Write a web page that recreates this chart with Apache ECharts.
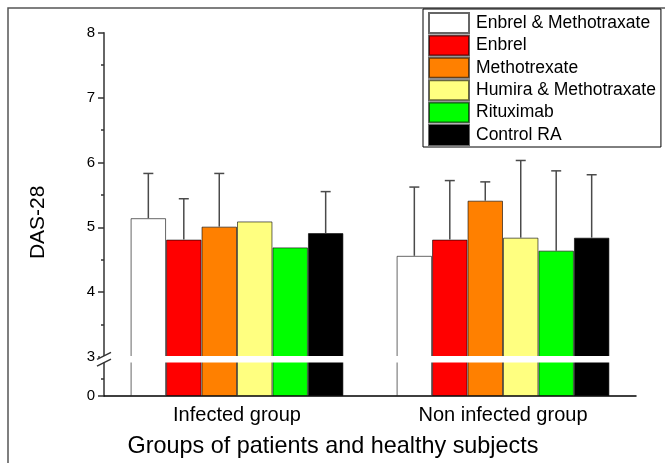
<!DOCTYPE html>
<html>
<head>
<meta charset="utf-8">
<script src="https://cdn.jsdelivr.net/npm/echarts@6/dist/echarts.min.js"></script>
<style>html,body{margin:0;padding:0;background:#fff;}#c{width:665px;height:463px;}</style>
</head>
<body>
<div id="c"></div>
<script>
const categories = ['Infected group', 'Non infected group'];
const seriesNames = ['Enbrel & Methotraxate', 'Enbrel', 'Methotrexate', 'Humira & Methotraxate', 'Rituximab', 'Control RA'];
const seriesColors = ['#ffffff', '#ff0000', '#ff8000', '#ffff80', '#00ff00', '#000000'];
// mean DAS-28 per group [Infected, Non infected]
const enbrelMtxMean = [5.14, 4.56];
const enbrelMean = [4.81, 4.81];
const mtxMean = [5.01, 5.41];
const humiraMtxMean = [5.09, 4.84];
const rituximabMean = [4.69, 4.64];
const controlMean = [4.91, 4.84];
// upward error (SD) per group; null = not drawn
const enbrelMtxErr = [0.69, 1.06];
const enbrelErr = [0.63, 0.91];
const mtxErr = [0.82, 0.29];
const humiraMtxErr = [null, 1.19];
const rituximabErr = [null, 1.23];
const controlErr = [0.64, 0.97];
const upperTicks = [3, 4, 5, 6, 7, 8];
const lowerTicks = [0];

const means = [enbrelMtxMean, enbrelMean, mtxMean, humiraMtxMean, rituximabMean, controlMean];
const errs = [enbrelMtxErr, enbrelErr, mtxErr, humiraMtxErr, rituximabErr, controlErr];

const FONT = '"Liberation Sans", Arial, sans-serif';
const nSeries = seriesNames.length;
const catGap = 0.2;

const series = [];
seriesNames.forEach((name, i) => {
  [0, 1].forEach(g => {
    series.push({
      name: name,
      type: 'bar',
      xAxisIndex: g,
      yAxisIndex: g,
      data: means[i],
      barGap: '0%',
      barCategoryGap: (catGap * 100) + '%',
      clip: true,
      itemStyle: { color: seriesColors[i], borderColor: 'rgba(0,0,0,0.6)', borderWidth: 1 },
      emphasis: { disabled: true },
      animation: false
    });
  });
});

const errData = [];
errs.forEach((arr, i) => {
  arr.forEach((e, c) => {
    if (e != null) errData.push([c, i, means[i][c], e]);
  });
});

series.push({
  name: 'err',
  type: 'custom',
  xAxisIndex: 0,
  yAxisIndex: 0,
  z: 10,
  animation: false,
  data: errData,
  renderItem: function (params, api) {
    const cat = api.value(0), si = api.value(1), m = api.value(2), e = api.value(3);
    const band = api.size([1, 0])[0];
    const bw = band * (1 - catGap) / nSeries;
    const p0 = api.coord([cat, m]);
    const p1 = api.coord([cat, m + e]);
    const cx = p0[0] + (si - (nSeries - 1) / 2) * bw;
    const hw = 5;
    const st = { stroke: '#4a4a4a', lineWidth: 1.5 };
    return {
      type: 'group',
      children: [
        { type: 'line', shape: { x1: cx, y1: p0[1], x2: cx, y2: p1[1] }, style: st },
        { type: 'line', shape: { x1: cx - hw, y1: p1[1], x2: cx + hw, y2: p1[1] }, style: st }
      ]
    };
  }
});

const chart = echarts.init(document.getElementById('c'));
chart.setOption({
  animation: false,
  backgroundColor: '#fff',
  textStyle: { fontFamily: FONT },
  legend: {
    data: seriesNames,
    orient: 'vertical',
    left: 423,
    top: 9,
    padding: [3, 5, 1, 5],
    itemWidth: 40,
    itemHeight: 20,
    itemGap: 0.4,
    icon: 'rect',
    borderColor: '#000',
    borderWidth: 1,
    backgroundColor: '#fff',
    selectedMode: false,
    textStyle: { fontSize: 17.5, lineHeight: 20, color: '#000', fontFamily: FONT, padding: [0, 0, 0, 2] }
  },
  grid: [
    { left: 104, right: 29, top: 32.7, height: 324.3 },
    { left: 104, right: 29, top: 361.5, height: 34.5 }
  ],
  xAxis: [
    { gridIndex: 0, type: 'category', data: categories, show: false },
    {
      gridIndex: 1, type: 'category', data: categories, position: 'bottom',
      axisLine: { lineStyle: { color: '#000', width: 1.5 } },
      axisTick: { alignWithLabel: true, length: 6, lineStyle: { color: '#000', width: 1.5 } },
      axisLabel: { fontSize: 20, color: '#000', margin: 9, fontFamily: FONT },
      name: 'Groups of patients and healthy subjects',
      nameLocation: 'middle',
      nameGap: 39,
      nameTextStyle: { fontSize: 23.4, color: '#000', fontFamily: FONT, padding: [0, 74, 0, 0] }
    },
    {
      gridIndex: 1, type: 'category', data: categories, position: 'bottom', offset: 0,
      axisLine: { show: false },
      axisTick: { length: 3, lineStyle: { color: '#000', width: 1.5 } },
      axisLabel: { show: false }
    }
  ],
  yAxis: [
    {
      gridIndex: 0, type: 'value', min: 3, max: 8, interval: 1,
      splitLine: { show: false },
      axisLine: { show: true, lineStyle: { color: '#333', width: 1.5 } },
      axisTick: { show: true, length: 6, lineStyle: { color: '#333', width: 1.5 } },
      minorTick: { show: true, splitNumber: 2, length: 3, lineStyle: { color: '#333', width: 1.5 } },
      axisLabel: { fontSize: 15, color: '#000', margin: 9, fontFamily: FONT, customValues: upperTicks },
      name: 'DAS-28',
      nameLocation: 'middle',
      nameGap: 55,
      nameTextStyle: { fontSize: 21, color: '#000', fontFamily: FONT, padding: [0, 55, 0, 0] }
    },
    {
      gridIndex: 1, type: 'value', min: 0, max: 3, interval: 3,
      splitLine: { show: false },
      axisLine: { show: true, lineStyle: { color: '#333', width: 1.5 } },
      axisTick: { show: true, length: 6, customValues: lowerTicks, lineStyle: { color: '#333', width: 1.5 } },
      minorTick: { show: true, splitNumber: 2, length: 3, lineStyle: { color: '#333', width: 1.5 } },
      axisLabel: { fontSize: 15, color: '#000', margin: 9, fontFamily: FONT, customValues: lowerTicks }
    }
  ],
  series: series
});

// decorations: page frame, white break band and axis-break marks, positioned from the axes
const yTop = chart.convertToPixel({ yAxisIndex: 0 }, 3);
const yBot = chart.convertToPixel({ yAxisIndex: 1 }, 3);
const xR = chart.convertToPixel({ xAxisIndex: 1 }, 1) + 133;
const bandTop = yTop - 1.1;
const bandBot = yBot + 1.1;
const brk = { stroke: '#333', lineWidth: 1.5 };
chart.setOption({
  graphic: [
    { type: 'rect', shape: { x: 8, y: 8, width: 700, height: 500 }, style: { fill: 'none', stroke: '#555', lineWidth: 1.5 }, silent: true, z: -1 },
    { type: 'rect', shape: { x: 100, y: bandTop, width: xR - 100, height: bandBot - bandTop }, style: { fill: '#fff' }, silent: true, z: 20 },
    { type: 'line', shape: { x1: 104 - 7, y1: bandTop + 3.5, x2: 104 + 7, y2: bandTop - 3.5 }, style: brk, silent: true, z: 21 },
    { type: 'line', shape: { x1: 104 - 7, y1: bandBot + 3.5, x2: 104 + 7, y2: bandBot - 3.5 }, style: brk, silent: true, z: 21 }
  ]
});
</script>
</body>
</html>
